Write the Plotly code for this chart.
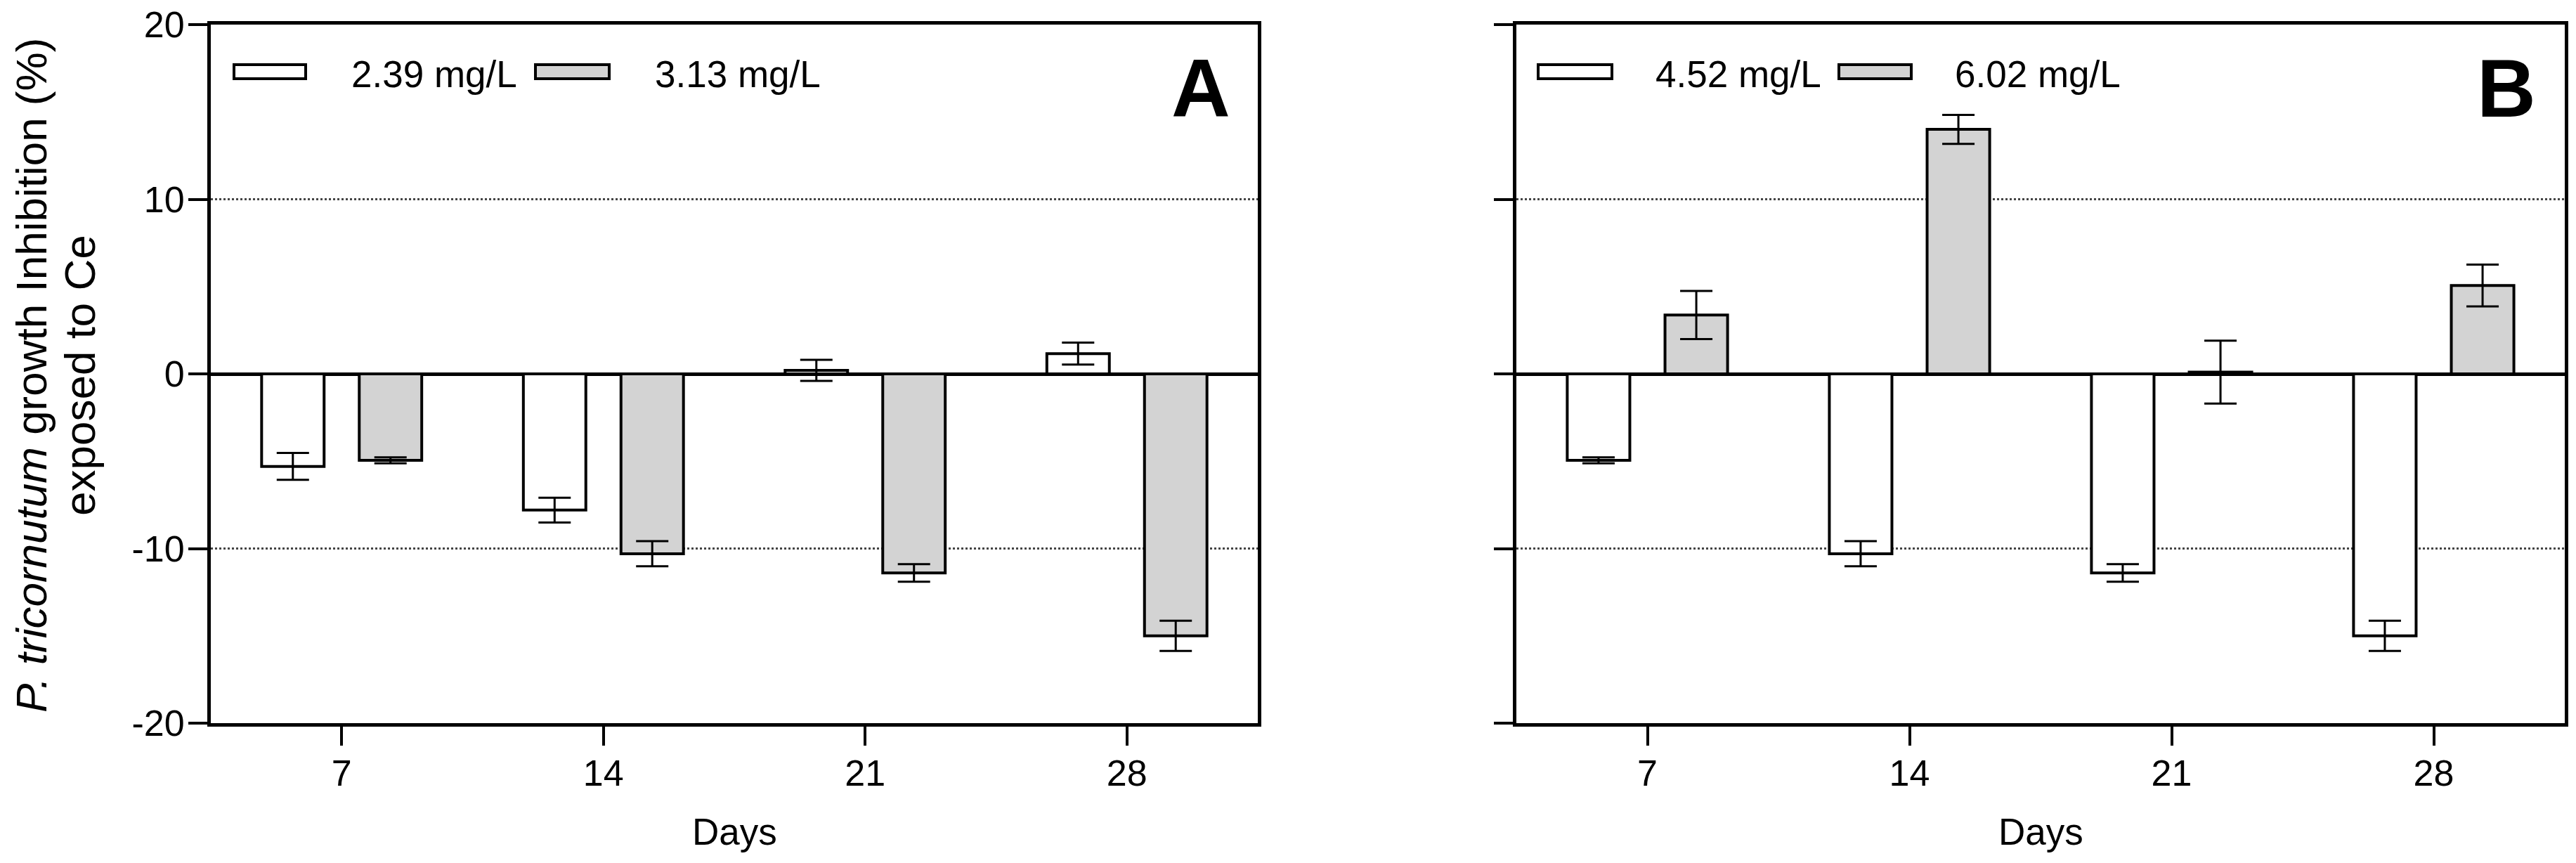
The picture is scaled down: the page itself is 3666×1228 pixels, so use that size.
import plotly.graph_objects as go

# ---------------- data ----------------
days = ["7", "14", "21", "28"]

series_A = ["2.39 mg/L", "3.13 mg/L"]
A_low = [-5.3, -7.8, 0.2, 1.16]
A_low_err = [0.77, 0.71, 0.6, 0.63]
A_high = [-4.95, -10.3, -11.4, -15.0]
A_high_err = [0.17, 0.72, 0.5, 0.87]

series_B = ["4.52 mg/L", "6.02 mg/L"]
B_low = [-4.95, -10.3, -11.4, -15.0]
B_low_err = [0.17, 0.72, 0.5, 0.87]
B_high = [3.37, 14.0, 0.1, 5.06]
B_high_err = [1.38, 0.83, 1.8, 1.2]

y_ticks = [-20, -10, 0, 10, 20]
y_tick_labels = ["-20", "-10", "0", "10", "20"]
fills = ["white", "#d3d3d3"]
panel_letters = ["A", "B"]
y_title_lines = ["<i>P. tricornutum</i> growth Inhibition (%)", "exposed to Ce"]

# ---------------- layout helpers ----------------
W, H = 3666, 1228
OFF = 8  # page body margin of the html page
FONT = "Liberation Sans, Arial, sans-serif"


def px(x):
    return (x - OFF) / W


def py(y):
    return 1 - (y - OFF) / H


fig = go.Figure()

panels = [
    dict(xa="x", ya="y", names=series_A,
         vals=[A_low, A_high], errs=[A_low_err, A_high_err]),
    dict(xa="x2", ya="y2", names=series_B,
         vals=[B_low, B_high], errs=[B_low_err, B_high_err]),
]

for p in panels:
    for i in range(2):
        fig.add_trace(go.Bar(
            x=days, y=p["vals"][i], name=p["names"][i],
            xaxis=p["xa"], yaxis=p["ya"],
            marker=dict(color=fills[i], line=dict(color="black", width=4)),
            error_y=dict(type="data", array=p["errs"][i], visible=True,
                         color="black", thickness=3, width=23),
            showlegend=False,
        ))

axis_common = dict(
    showline=True, linecolor="black", linewidth=5, mirror=True,
    ticks="outside", ticklen=27, tickwidth=4, tickcolor="black",
    tickfont=dict(family=FONT, size=52, color="black"),
    automargin=False, ticklabeloverflow="allow",
)

x_dom = [[px(300), px(1790)], [px(2158), px(3650)]]
y_dom = [py(1029), py(35)]

for k in range(2):
    sfx = "" if k == 0 else str(k + 1)
    fig.update_layout(**{
        "xaxis" + sfx: dict(axis_common, type="category", domain=x_dom[k],
                            range=[-0.5, 3.5], anchor="y" + sfx,
                            showgrid=False, zeroline=False,
                            ticklabelstandoff=-5),
        "yaxis" + sfx: dict(axis_common, domain=y_dom, range=[-20, 20],
                            tickvals=y_ticks, ticktext=y_tick_labels,
                            anchor="x" + sfx,
                            showticklabels=(k == 0),
                            ticklabelstandoff=-5,
                            showgrid=True, gridcolor="#444", gridwidth=3,
                            griddash="dot",
                            zeroline=True, zerolinecolor="black",
                            zerolinewidth=5),
    })

shapes = []
annotations = []

# custom legends (wide flat swatches)
legend_pos = [
    dict(sw=[(333, 435), (762, 867)], tx=[498, 930]),
    dict(sw=[(2189, 2294), (2617, 2720)], tx=[2354, 2780]),
]
for k, p in enumerate(panels):
    lp = legend_pos[k]
    for i in range(2):
        x0, x1 = lp["sw"][i]
        shapes.append(dict(type="rect", xref="paper", yref="paper",
                           x0=px(x0), x1=px(x1), y0=py(112), y1=py(92),
                           fillcolor=fills[i],
                           line=dict(color="black", width=4)))
        annotations.append(dict(text=p["names"][i], xref="paper", yref="paper",
                                x=px(lp["tx"][i]), y=py(105),
                                xanchor="left", yanchor="middle",
                                showarrow=False,
                                font=dict(family=FONT, size=53, color="black")))

# panel letters
letter_x = [1753, 3611]
for k in range(2):
    annotations.append(dict(text="<b>%s</b>" % panel_letters[k],
                            xref="paper", yref="paper",
                            x=px(letter_x[k]), y=py(126),
                            xanchor="right", yanchor="middle", showarrow=False,
                            font=dict(family=FONT, size=116, color="black")))

# x titles
for k in range(2):
    cx = (x_dom[k][0] + x_dom[k][1]) / 2
    annotations.append(dict(text="Days", xref="paper", yref="paper",
                            x=cx, y=py(1183), xanchor="center",
                            yanchor="middle", showarrow=False,
                            font=dict(family=FONT, size=53, color="black")))

# y title (two lines)
title_x = [44, 113]
for j, line in enumerate(y_title_lines):
    annotations.append(dict(
        text=line, xref="paper", yref="paper", x=px(title_x[j]), y=py(534),
        xanchor="center", yanchor="middle", textangle=-90, showarrow=False,
        font=dict(family=FONT, size=62, color="black")))

fig.update_layout(
    width=W, height=H,
    margin=dict(l=0, r=0, t=0, b=0, pad=0, autoexpand=False),
    paper_bgcolor="white", plot_bgcolor="white",
    barmode="group", bargap=0.254, bargroupgap=0.36,
    shapes=shapes, annotations=annotations,
    showlegend=False,
    font=dict(family=FONT, color="black"),
)

fig.write_html("out.html")
